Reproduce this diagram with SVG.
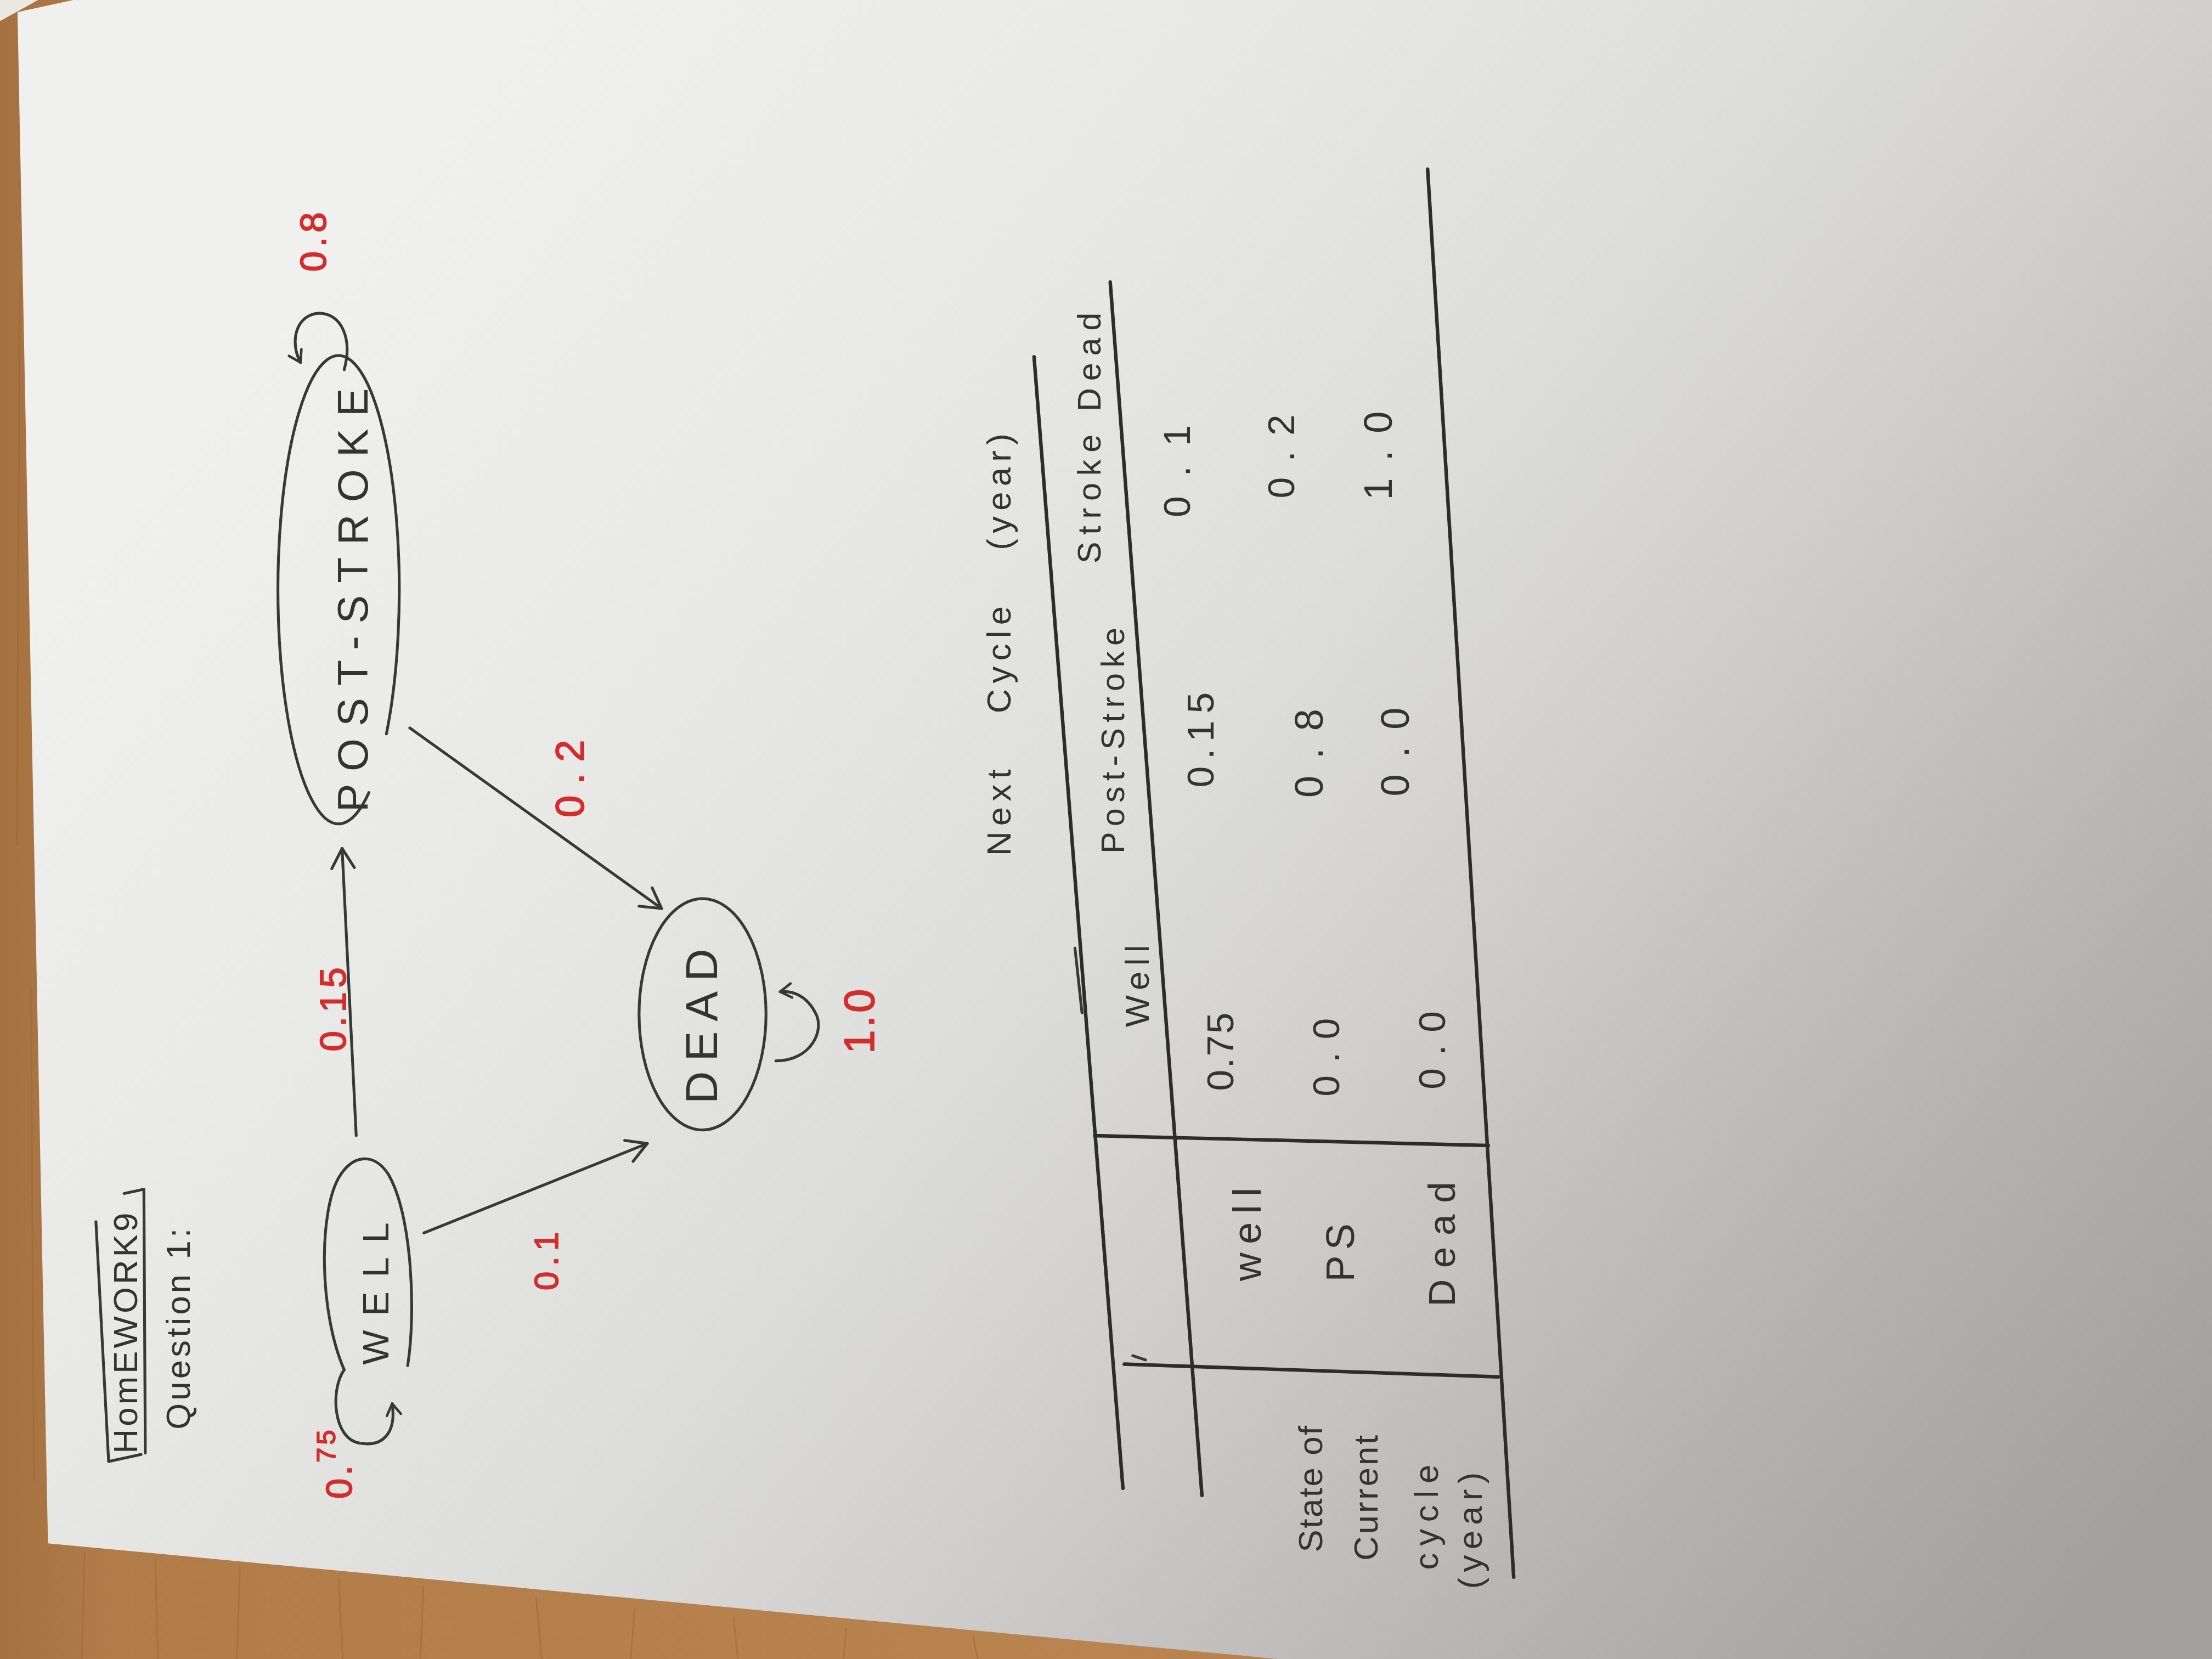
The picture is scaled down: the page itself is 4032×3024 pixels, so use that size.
<svg xmlns="http://www.w3.org/2000/svg" width="4032" height="3024" viewBox="0 0 4032 3024">
<style>
.ink{fill:none;stroke:#383838;stroke-width:2;stroke-linecap:round;stroke-linejoin:round}
.rule{fill:none;stroke:#2c2c2c;stroke-width:2.5;stroke-linecap:round}
.hw{font-family:"Liberation Sans",Arial,sans-serif;fill:#333;text-anchor:middle;dominant-baseline:central}
.red{font-family:"Liberation Sans",Arial,sans-serif;fill:#d42c2c;stroke:#d42c2c;stroke-width:0.7;text-anchor:middle;dominant-baseline:central}
.grain{fill:none;stroke:#9a6634;stroke-width:1.2;opacity:0.45}
</style>
<defs>
<linearGradient id="paper" gradientUnits="userSpaceOnUse" x1="300" y1="100" x2="1500" y2="1100">
<stop offset="0" stop-color="#f0f0ee"/>
<stop offset="0.25" stop-color="#e8e8e6"/>
<stop offset="0.45" stop-color="#dddddb"/>
<stop offset="0.6" stop-color="#cfcecc"/>
<stop offset="0.72" stop-color="#c0bfbd"/>
<stop offset="0.86" stop-color="#b1afad"/>
<stop offset="1" stop-color="#a3a09e"/>
</linearGradient>
<linearGradient id="wood" x1="0" y1="0" x2="1" y2="0">
<stop offset="0" stop-color="#a47140"/>
<stop offset="0.05" stop-color="#b17c48"/>
<stop offset="0.5" stop-color="#b9844f"/>
<stop offset="1" stop-color="#b07c49"/>
</linearGradient>
<marker id="arr" viewBox="-16 -10 18 20" refX="0" refY="0" markerWidth="18" markerHeight="20" markerUnits="userSpaceOnUse" orient="auto">
<path d="M -14,-8 L 0,0 L -14,8" fill="none" stroke="#383838" stroke-width="2" stroke-linecap="round" stroke-linejoin="round"/>
</marker>
<marker id="arrs" viewBox="-10 -7 12 14" refX="0" refY="0" markerWidth="12" markerHeight="14" markerUnits="userSpaceOnUse" orient="auto">
<path d="M -8,-5 L 0,0 L -8,5" fill="none" stroke="#383838" stroke-width="1.8" stroke-linecap="round" stroke-linejoin="round"/>
</marker>
</defs>
<g transform="scale(2.5714286)">
<g id="background">
<rect x="0" y="0" width="1568" height="1176" fill="url(#wood)"/>
<path class="grain" d="M60,1100 L58,1176 M110,1104 L112,1176 M170,1110 L168,1176 M240,1118 L243,1176 M300,1124 L298,1176 M380,1132 L384,1176 M450,1140 L447,1176 M520,1146 L523,1176 M600,1154 L598,1176 M690,1160 L693,1176 M14,200 L12,600 M22,700 L24,1050"/>
<polygon points="0,0 27,0 0,15" fill="#ebe8e2"/>
<polygon points="12.4,8.6 52,0 1568,0 1568,1176 906,1176 34,1094" fill="url(#paper)"/>
</g>
<g id="title">
<path class="ink" d="M68,866 L77,1036 L100,1031 M88,846 L102,843 L103,1030"/>
<text class="hw" font-size="24" letter-spacing="2" transform="translate(89,944) rotate(-90)">HomEWORK9</text>
<text class="hw" font-size="24" letter-spacing="2" transform="translate(126,941) rotate(-90)">Question 1:</text>
</g>
<g id="node-well">
<path class="ink" d="M289,968 C295,930 292,860 275,832 C265,817 250,818 240,835 C226,860 226,930 244,971"/>
<text class="hw" font-size="26" letter-spacing="10" transform="translate(266,912) rotate(-90)">WELL</text>
</g>
<g id="node-post-stroke">
<path class="ink" d="M273.9,520.2 A43 166 0 1 0 261.5,561.8"/>
<text class="hw" font-size="30" letter-spacing="8.7" transform="translate(250,421) rotate(-90)">POST-STROKE</text>
</g>
<g id="node-dead">
<ellipse class="ink" cx="498" cy="719" rx="45" ry="82"/>
<text class="hw" font-size="32" letter-spacing="7" transform="translate(497,724) rotate(-90)">DEAD</text>
</g>
<g id="connectors">
<path class="ink" d="M252.5,805 L242.5,601.4" marker-end="url(#arr)"/>
<path class="ink" d="M300.5,874 L458.8,810.6" marker-end="url(#arr)"/>
<path class="ink" d="M290.5,516 L469,644" marker-end="url(#arr)"/>
<path class="ink" d="M244,971 C234,985 236,1020 255,1023 C272,1026 281,1015 278,995" marker-end="url(#arrs)"/>
<path class="ink" d="M244,262 C250,240 242,222 226,222 C210,223 205,242 213,257" marker-end="url(#arrs)"/>
<path class="ink" d="M550,752 C575,752 585,730 578,718 C572,706 562,702 553,703" marker-end="url(#arrs)"/>
</g>
<g id="edge-labels">
<text class="red" font-size="26" letter-spacing="2" transform="translate(240,1037) rotate(-90)">0.<tspan font-size="19" dy="-9">75</tspan></text>
<text class="red" font-size="26" letter-spacing="3" transform="translate(236,714) rotate(-90)">0.15</text>
<text class="red" font-size="24" letter-spacing="4" transform="translate(387,892) rotate(-90)">0.1</text>
<text class="red" font-size="28" letter-spacing="8" transform="translate(404,548) rotate(-90)">0.2</text>
<text class="red" font-size="26" letter-spacing="3" transform="translate(222,170) rotate(-90)">0.8</text>
<text class="red" font-size="30" letter-spacing="2" transform="translate(609,723) rotate(-90)">1.0</text>
</g>
<g id="table">
<path class="rule" d="M733,253 L796,1055 M787,200 L852,1060 M1012,120 L1073,1118 M776,805 L1055,812 M797,967 L1062,976"/>
<path class="ink" d="M762,672 L767,718 M803,961 L812,964"/>
<text class="hw" font-size="24" letter-spacing="4" word-spacing="25" transform="translate(708,455) rotate(-90)">Next Cycle (year)</text>
<text class="hw" font-size="24" letter-spacing="4" transform="translate(806,697) rotate(-90)">Well</text>
<text class="hw" font-size="23" letter-spacing="4" transform="translate(789,523) rotate(-90)">Post-Stroke</text>
<text class="hw" font-size="23" letter-spacing="5" transform="translate(772,308) rotate(-90)">Stroke Dead</text>
<text class="hw" font-size="27" letter-spacing="1" transform="translate(865,745) rotate(-90)">0.75</text>
<text class="hw" font-size="27" letter-spacing="5" transform="translate(851,522) rotate(-90)">0.15</text>
<text class="hw" font-size="27" letter-spacing="14" transform="translate(834,327) rotate(-90)">0.1</text>
<text class="hw" font-size="27" letter-spacing="9" transform="translate(940,745) rotate(-90)">0.0</text>
<text class="hw" font-size="28" letter-spacing="12" transform="translate(928,528) rotate(-90)">0.8</text>
<text class="hw" font-size="27" letter-spacing="11" transform="translate(908,318) rotate(-90)">0.2</text>
<text class="hw" font-size="27" letter-spacing="9" transform="translate(1015,740) rotate(-90)">0.0</text>
<text class="hw" font-size="28" letter-spacing="12" transform="translate(989,527) rotate(-90)">0.0</text>
<text class="hw" font-size="28" letter-spacing="12" transform="translate(977,317) rotate(-90)">1.0</text>
<text class="hw" font-size="28" letter-spacing="6" transform="translate(884,872) rotate(-90)">well</text>
<text class="hw" font-size="28" letter-spacing="4" transform="translate(950,886) rotate(-90)">PS</text>
<text class="hw" font-size="27" letter-spacing="8" transform="translate(1022,878) rotate(-90)">Dead</text>
<text class="hw" font-size="24" letter-spacing="1" transform="translate(929,1055) rotate(-90)">State of</text>
<text class="hw" font-size="24" letter-spacing="1.5" transform="translate(968,1061) rotate(-90)">Current</text>
<text class="hw" font-size="24" letter-spacing="5" transform="translate(1011,1073) rotate(-90)">cycle</text>
<text class="hw" font-size="24" letter-spacing="4" transform="translate(1042,1083) rotate(-90)">(year)</text>
</g>
</g>
</svg>
